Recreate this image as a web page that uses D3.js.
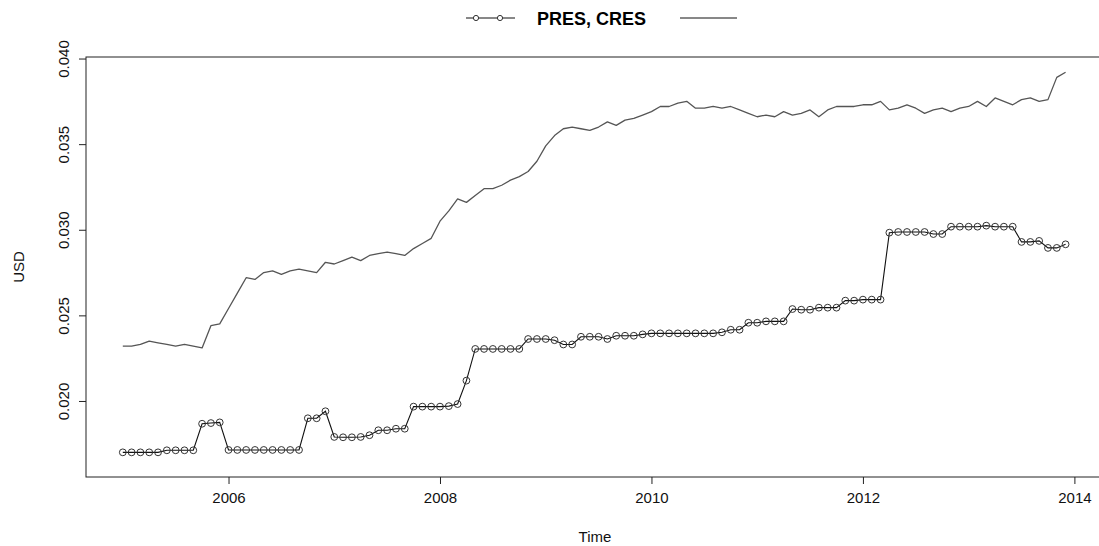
<!DOCTYPE html>
<html>
<head>
<meta charset="utf-8">
<script src="https://cdn.jsdelivr.net/npm/d3@7"></script>
<style>
  html, body { margin: 0; padding: 0; background: #fff; }
  svg { display: block; font-family: "Liberation Sans", Arial, sans-serif; }
</style>
</head>
<body>
<svg id="chart" width="1099" height="546"></svg>
<script>
// Monthly series, Jan 2005 – Dec 2013
const startYear = 2005;
const PRES = [
  0.01700, 0.01700, 0.01700, 0.01700, 0.01700, 0.01712, 0.01712, 0.01712, 0.01712,
  0.01867, 0.01871, 0.01875,
  0.01714, 0.01714, 0.01714, 0.01714, 0.01714, 0.01714, 0.01714, 0.01714, 0.01714,
  0.01899, 0.01899, 0.01940,
  0.01790, 0.01788, 0.01788, 0.01790, 0.01800, 0.01829, 0.01829, 0.01838, 0.01838,
  0.01967, 0.01967, 0.01967, 0.01967, 0.01970, 0.01982, 0.02119,
  0.02304, 0.02304, 0.02304, 0.02304, 0.02304, 0.02304,
  0.02362, 0.02362, 0.02362, 0.02355, 0.02330, 0.02330,
  0.02375, 0.02375, 0.02375, 0.02362, 0.02381, 0.02381, 0.02381, 0.02389,
  0.02395, 0.02395, 0.02395, 0.02395, 0.02395, 0.02395, 0.02395, 0.02395,
  0.02401, 0.02416, 0.02416, 0.02457, 0.02457, 0.02465, 0.02465, 0.02465,
  0.02537, 0.02533, 0.02533, 0.02545, 0.02545, 0.02545,
  0.02586, 0.02586, 0.02592, 0.02592, 0.02592,
  0.02983, 0.02987, 0.02987, 0.02987, 0.02987, 0.02975, 0.02975,
  0.03018, 0.03018, 0.03018, 0.03018, 0.03024, 0.03018, 0.03018, 0.03018,
  0.02929, 0.02929, 0.02935, 0.02894, 0.02894, 0.02915
];
const CRES = [
  0.0232, 0.0232, 0.0233, 0.0235, 0.0234, 0.0233, 0.0232, 0.0233, 0.0232, 0.0231, 0.0244, 0.0245,
  0.0254, 0.0263, 0.0272, 0.0271, 0.0275, 0.0276, 0.0274, 0.0276, 0.0277, 0.0276, 0.0275, 0.0281,
  0.0280, 0.0282, 0.0284, 0.0282, 0.0285, 0.0286, 0.0287, 0.0286, 0.0285, 0.0289, 0.0292, 0.0295,
  0.0305, 0.0311, 0.0318, 0.0316, 0.0320, 0.0324, 0.0324, 0.0326, 0.0329, 0.0331, 0.0334, 0.0340,
  0.0349, 0.0355, 0.0359, 0.0360, 0.0359, 0.0358, 0.0360, 0.0363, 0.0361, 0.0364, 0.0365, 0.0367,
  0.0369, 0.0372, 0.0372, 0.0374, 0.0375, 0.0371, 0.0371, 0.0372, 0.0371, 0.0372, 0.0370, 0.0368,
  0.0366, 0.0367, 0.0366, 0.0369, 0.0367, 0.0368, 0.0370, 0.0366, 0.0370, 0.0372, 0.0372, 0.0372,
  0.0373, 0.0373, 0.0375, 0.0370, 0.0371, 0.0373, 0.0371, 0.0368, 0.0370, 0.0371, 0.0369, 0.0371,
  0.0372, 0.0375, 0.0372, 0.0377, 0.0375, 0.0373, 0.0376, 0.0377, 0.0375, 0.0376, 0.0389, 0.0392
];
const xTicks = [2006, 2008, 2010, 2012, 2014];
const yTicks = [0.020, 0.025, 0.030, 0.035, 0.040];
const legendLabel = "PRES, CRES";
const xTitle = "Time";
const yTitle = "USD";

const svg = d3.select("#chart");
svg.append("rect").attr("width", 1099).attr("height", 546).attr("fill", "#fff");

const plot = { left: 86, right: 1104, top: 57, bottom: 477 };

const x = d3.scaleLinear().domain([2004.652, 2014.28]).range([plot.left, plot.right]);
const y = d3.scaleLinear().domain([0.01556, 0.04009]).range([plot.bottom, plot.top]);

const t = i => startYear + i / 12;

// CRES line
const lineGen = d3.line().x((d, i) => x(t(i))).y(d => y(d));
svg.append("path")
  .datum(CRES)
  .attr("d", lineGen)
  .attr("fill", "none")
  .attr("stroke", "#555")
  .attr("stroke-width", 1.3)
  .attr("stroke-linejoin", "round");

// PRES line with open circles
svg.append("path")
  .datum(PRES)
  .attr("d", lineGen)
  .attr("fill", "none")
  .attr("stroke", "#111")
  .attr("stroke-width", 1.1);

svg.append("g").selectAll("circle")
  .data(PRES)
  .join("circle")
  .attr("cx", (d, i) => x(t(i)))
  .attr("cy", d => y(d))
  .attr("r", 3.4)
  .attr("fill", "none")
  .attr("stroke", "#333")
  .attr("stroke-width", 1);

// Frame
svg.append("rect")
  .attr("x", plot.left).attr("y", plot.top)
  .attr("width", plot.right - plot.left).attr("height", plot.bottom - plot.top)
  .attr("fill", "none").attr("stroke", "#222").attr("stroke-width", 1);

// Bottom axis
const xAxis = d3.axisBottom(x).tickValues(xTicks).tickFormat(d3.format("d")).tickSize(7).tickPadding(8);
const gx = svg.append("g").attr("transform", `translate(0,${plot.bottom})`).call(xAxis);
gx.select(".domain").remove();
gx.selectAll("line").attr("stroke", "#222");
gx.selectAll("text").attr("font-size", 15).attr("fill", "#111")
  .attr("font-family", "'Liberation Sans', Arial, sans-serif");

// Left axis with rotated labels
const yAxis = d3.axisLeft(y).tickValues(yTicks).tickFormat(d3.format(".3f")).tickSize(7);
const gy = svg.append("g").attr("transform", `translate(${plot.left},0)`).call(yAxis);
gy.select(".domain").remove();
gy.selectAll("line").attr("stroke", "#222");
gy.selectAll("text")
  .attr("font-size", 15).attr("fill", "#111")
  .attr("font-family", "'Liberation Sans', Arial, sans-serif")
  .attr("x", null).attr("dy", null)
  .attr("text-anchor", "middle")
  .attr("transform", "translate(-23,0) rotate(-90)")
  .attr("dominant-baseline", "central");

// Axis titles
svg.append("text")
  .attr("x", (plot.left + plot.right) / 2).attr("y", 542)
  .attr("text-anchor", "middle").attr("font-size", 15).attr("fill", "#111")
  .text(xTitle);
svg.append("text")
  .attr("transform", `translate(24,${(plot.top + plot.bottom) / 2}) rotate(-90)`)
  .attr("text-anchor", "middle").attr("font-size", 15).attr("fill", "#111")
  .text(yTitle);

// Legend
const legY = 18;
const leg = svg.append("g");
leg.append("line").attr("x1", 466).attr("x2", 515).attr("y1", legY).attr("y2", legY)
  .attr("stroke", "#111").attr("stroke-width", 1);
leg.selectAll("circle.k").data([476, 500]).join("circle")
  .attr("cx", d => d).attr("cy", legY).attr("r", 2.6)
  .attr("fill", "#fff").attr("stroke", "#333").attr("stroke-width", 1);
leg.append("text")
  .attr("x", 537).attr("y", legY + 7)
  .attr("font-size", 18).attr("font-weight", "bold").attr("fill", "#000")
  .text(legendLabel);
leg.append("line").attr("x1", 680).attr("x2", 737).attr("y1", legY).attr("y2", legY)
  .attr("stroke", "#111").attr("stroke-width", 1);
</script>
</body>
</html>
